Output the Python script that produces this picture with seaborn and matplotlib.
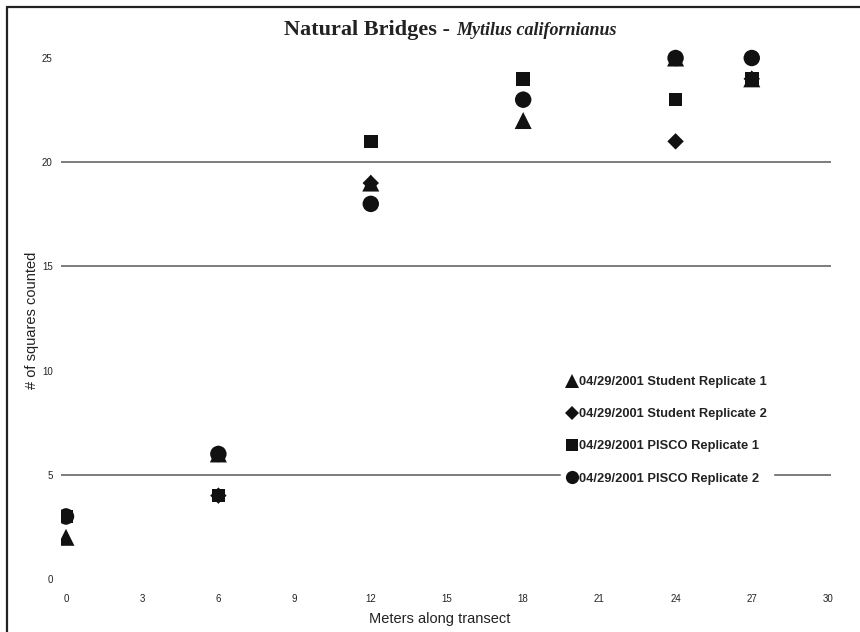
import matplotlib
matplotlib.use("Agg")
import matplotlib.pyplot as plt
from matplotlib.lines import Line2D
import seaborn as sns
import pandas as pd

# ---- data ----
meters = [0, 6, 12, 18, 24, 27]
student_rep1 = [2, 6, 19, 22, 25, 24]
student_rep2 = [3, 4, 19, 23, 21, 24]
pisco_rep1 = [3, 4, 21, 24, 23, 24]
pisco_rep2 = [3, 6, 18, 23, 25, 25]
series_names = ["04/29/2001 Student Replicate 1",
                "04/29/2001 Student Replicate 2",
                "04/29/2001 PISCO Replicate 1",
                "04/29/2001 PISCO Replicate 2"]
x_ticks = [0, 3, 6, 9, 12, 15, 18, 21, 24, 27, 30]
y_ticks = [0, 5, 10, 15, 20, 25]
grid_levels = [5, 15, 20]

sns.set_theme(style="white")
plt.rcParams['font.family'] = ['Liberation Sans', 'DejaVu Sans']

rows = []
for name, vals in zip(series_names, [student_rep1, student_rep2, pisco_rep1, pisco_rep2]):
    for m, v in zip(meters, vals):
        rows.append({"Meters": m, "Count": v, "Series": name})
df = pd.DataFrame(rows)

markers = {series_names[0]: "^", series_names[1]: "D",
           series_names[2]: "s", series_names[3]: "o"}
sizes = {series_names[0]: 150, series_names[1]: 70,
         series_names[2]: 95, series_names[3]: 140}

fig = plt.figure(figsize=(8.6, 6.32), dpi=100)
ax = fig.add_axes([0.0709, 0.0839, 0.8954, 0.8408])

for name in series_names:
    sub = df[df["Series"] == name]
    sns.scatterplot(data=sub, x="Meters", y="Count", marker=markers[name],
                    s=sizes[name], color="#111111", edgecolor="none",
                    linewidth=0, ax=ax, legend=False, zorder=3)

for g in grid_levels:
    ax.axhline(g, color="#666666", lw=1.2, zorder=1)

ax.set_xlim(-0.197, 30.12)
ax.set_ylim(0, 25.5)
ax.set_xticks(x_ticks)
ax.set_yticks(y_ticks)
ax.tick_params(axis="x", length=0, pad=11, labelsize=7, labelcolor="#222222")
ax.tick_params(axis="y", length=0, pad=6, labelsize=7, labelcolor="#222222")
for s in ax.spines.values():
    s.set_visible(False)

ax.set_xlabel("Meters along transect", fontsize=10.5, color="#222222")
ax.xaxis.set_label_coords(0.492, -0.062)
ax.set_ylabel("# of squares counted", fontsize=10.5, color="#222222")
ax.yaxis.set_label_coords(-0.028, 0.487)

# title in two parts
fig.text(0.530, 0.9525, "Natural Bridges - ", ha="right", va="center",
         fontsize=16, fontweight="bold", family="Liberation Serif", color="#222222")
fig.text(0.530, 0.9525, "Mytilus californianus", ha="left", va="center",
         fontsize=13, fontweight="bold", style="italic", family="Liberation Serif",
         color="#222222")

handles = [Line2D([], [], linestyle="none", marker=markers[n], color="#111111",
                  markersize=ms, markeredgewidth=0)
           for n, ms in zip(series_names, [10, 7.5, 8.5, 9.5])]
leg = ax.legend(handles, series_names, loc="upper left",
                bbox_to_anchor=(0.645, 0.425), bbox_transform=fig.transFigure,
                frameon=True, fancybox=False, framealpha=1, edgecolor="white",
                facecolor="white", handlelength=0.7, handletextpad=0.15,
                labelspacing=1.55, borderpad=0.5, prop={"weight": "bold", "size": 9.3})
for t in leg.get_texts():
    t.set_color("#222222")
leg.set_zorder(5)

# outer frame (top and left)
fig.add_artist(Line2D([7/860, 1], [1 - 7/632, 1 - 7/632], transform=fig.transFigure,
                      color="#222222", lw=1.6))
fig.add_artist(Line2D([7/860, 7/860], [0, 1 - 7/632], transform=fig.transFigure,
                      color="#222222", lw=1.6))

fig.savefig("out.png", dpi=100, facecolor="white")
